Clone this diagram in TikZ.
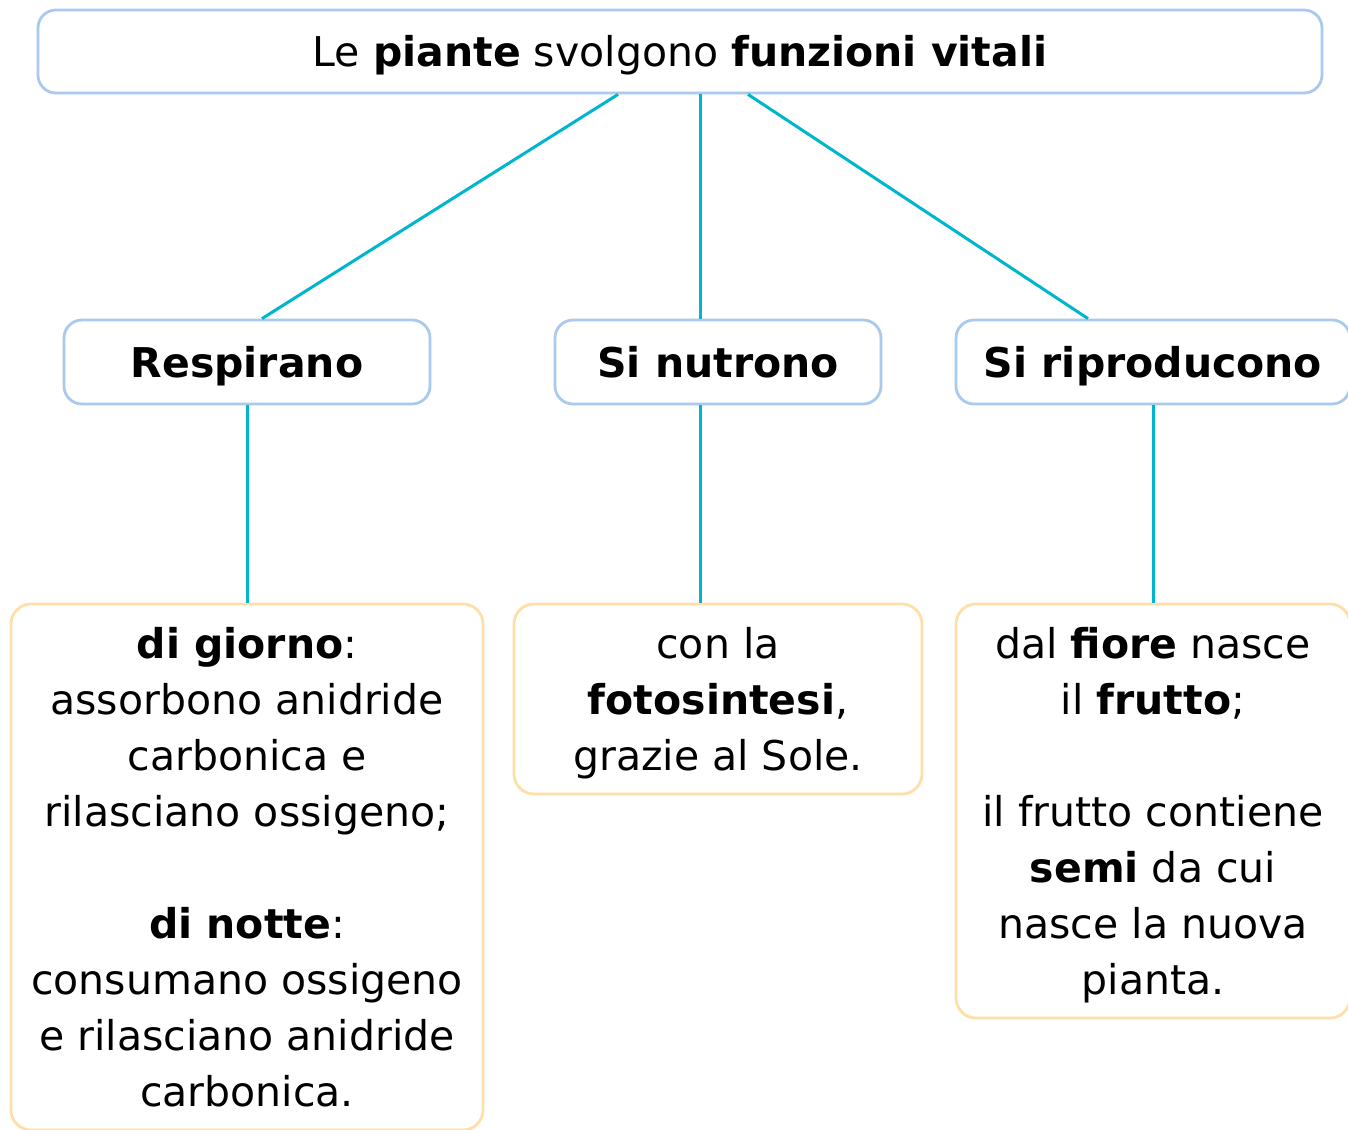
\documentclass[tikz,border=0pt]{standalone}
\usepackage{fontspec}
\setmainfont{DejaVu Sans}
\definecolor{boxblue}{HTML}{A9C9EE}
\definecolor{boxorange}{HTML}{FEDFA8}
\definecolor{linecyan}{HTML}{00B6CE}
\newcommand{\mystrut}{\rule[-12.8pt]{0pt}{56pt}}
\begin{document}
\begin{tikzpicture}[x=1pt,y=-1pt,
  basebox/.style={line width=2.8pt, fill=white, inner sep=0pt, align=center,
    font=\fontsize{41}{56}\selectfont},
  bluebox/.style={basebox, draw=boxblue, rounded corners=18pt},
  orangebox/.style={basebox, draw=boxorange, rounded corners=20pt},
  conn/.style={draw=linecyan, line width=3pt}]
\useasboundingbox (0,0) rectangle (1348,1129);
\fill[white] (0,0) rectangle (1348,1129);

\node[bluebox, minimum width=1284pt, minimum height=83pt] (top) at (680,51.5)
  {\mystrut Le \textbf{piante} svolgono \textbf{funzioni vitali}};

\node[bluebox, minimum width=366pt, minimum height=84pt] (resp) at (247,362)
  {\mystrut\textbf{Respirano}};
\node[bluebox, minimum width=326pt, minimum height=84pt] (nutr) at (718,362)
  {\mystrut\textbf{Si nutrono}};
\node[bluebox, minimum width=394pt, minimum height=84pt] (ripr) at (1153,362)
  {\mystrut\textbf{Si riproducono}};

\node[orangebox, minimum width=472pt, minimum height=526pt] (b1) at (247,867)
  {\mystrut\textbf{di giorno}:\\
   \mystrut assorbono anidride\\
   \mystrut carbonica e\\
   \mystrut rilasciano ossigeno;\\
   \mystrut\\
   \mystrut\textbf{di notte}:\\
   \mystrut consumano ossigeno\\
   \mystrut e rilasciano anidride\\
   \mystrut carbonica.};
\node[orangebox, minimum width=408pt, minimum height=190pt] (b2) at (718,699)
  {\mystrut con la\\
   \mystrut\textbf{fotosintesi},\\
   \mystrut grazie al Sole.};
\node[orangebox, minimum width=394pt, minimum height=414pt] (b3) at (1153,811)
  {\mystrut dal \textbf{fiore} nasce\\
   \mystrut il \textbf{frutto};\\
   \mystrut\\
   \mystrut il frutto contiene\\
   \mystrut\textbf{semi} da cui\\
   \mystrut nasce la nuova\\
   \mystrut pianta.};

\draw[conn] ([xshift=-62pt]top.south) -- ([xshift=15pt]resp.north);
\draw[conn] ([xshift=20pt]top.south) -- ([xshift=-18pt]nutr.north);
\draw[conn] ([xshift=68pt]top.south) -- ([xshift=-65pt]ripr.north);
\draw[conn] (resp.south) -- (b1.north);
\draw[conn] ([xshift=-18pt]nutr.south) -- ([xshift=-18pt]b2.north);
\draw[conn] (ripr.south) -- (b3.north);
\end{tikzpicture}
\end{document}
